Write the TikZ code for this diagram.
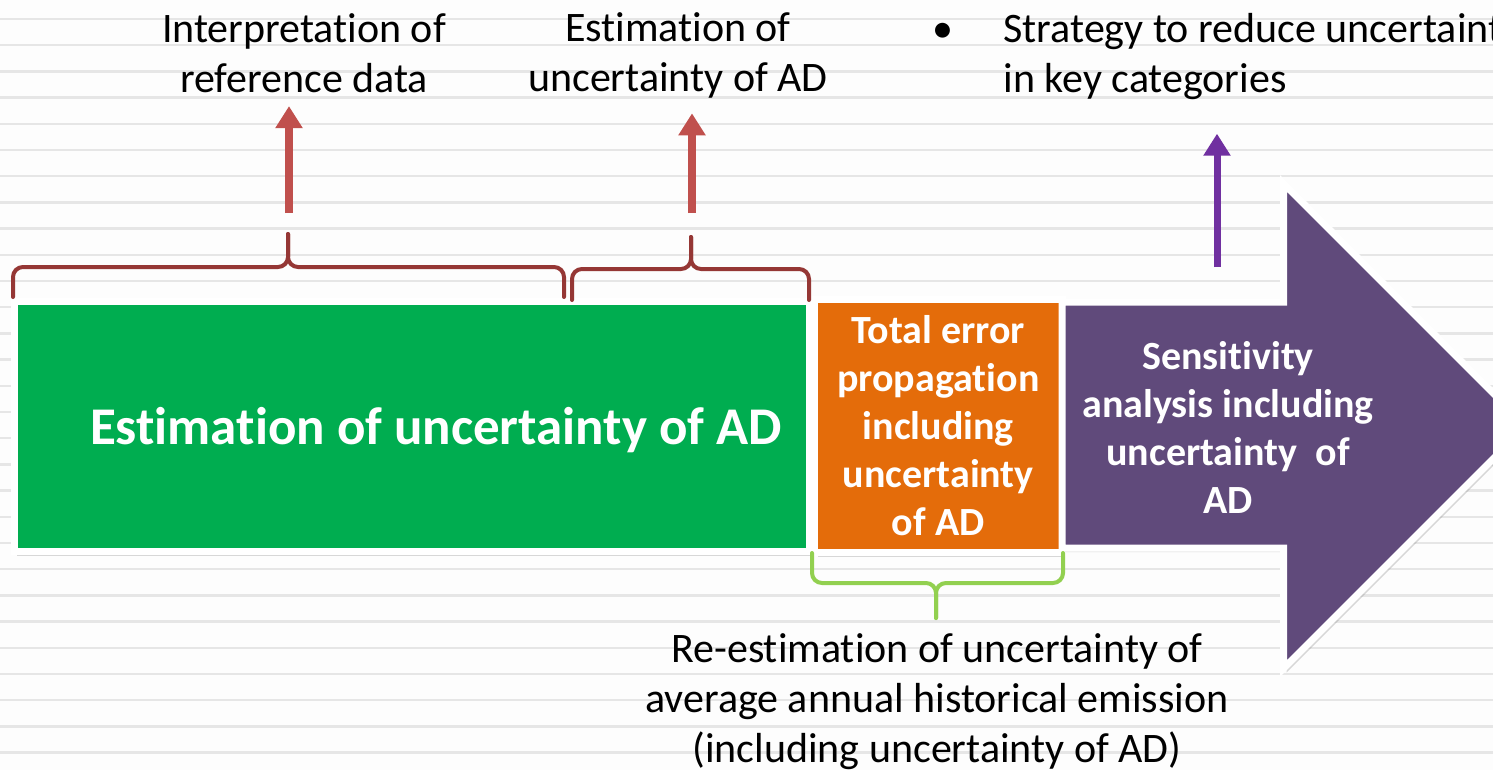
\documentclass[tikz,border=0pt]{standalone}
\usepackage{fontspec}
\setmainfont{Carlito}[Ligatures=NoCommon]
\usetikzlibrary{arrows.meta,shadows}
\definecolor{bggrey}{HTML}{FDFDFD}
\definecolor{rulegrey}{HTML}{E6E6E6}
\definecolor{adgreen}{HTML}{00AD50}
\definecolor{adorange}{HTML}{E46C0A}
\definecolor{adpurple}{HTML}{604A7B}
\definecolor{bracered}{HTML}{953735}
\definecolor{arrowred}{HTML}{C0504D}
\definecolor{arrowpurple}{HTML}{7030A0}
\definecolor{bracegreen}{HTML}{92D050}
\tikzset{
  box/.style={draw=white, line width=7pt, inner sep=0pt,
    drop shadow={shadow xshift=3pt, shadow yshift=-4pt, opacity=.3}},
  boxtext/.style={text=white, font=\bfseries\fontsize{40}{48}\selectfont, align=center},
  plaintext/.style={font=\fontsize{42}{50}\selectfont, align=center},
  brace/.style={line width=4pt, rounded corners=10pt, line cap=round},
  uparrow/.style={line width=8pt, -{Triangle[width=26pt,length=22pt]}},
}
\begin{document}
\begin{tikzpicture}[x=1pt,y=-1pt]
\useasboundingbox (0,0) rectangle (1493,770);
\clip (0,0) rectangle (1493,770);
% lined background
\fill[bggrey] (0,0) rectangle (1493,770);
\foreach \k in {0,...,28}
  \draw[rulegrey, line width=2.5pt] (0,{19+26.2*\k}) -- (1493,{19+26.2*\k});

% AD box
\node[box, fill=adgreen, minimum width=795.5pt, minimum height=250.5pt] (adbox) at (411.75,426.5) {};
\node[boxtext, font=\bfseries\fontsize{53}{60}\selectfont] (adtext) at (436,430) {Estimation of uncertainty of AD};

% error propagation
\node[box, boxtext, fill=adorange, minimum width=247.5pt, minimum height=253pt] (errbox) at (938.25,426)
  {Total error\\propagation\\including\\uncertainty\\of AD};

% sensitivity arrow
\draw[fill=adpurple, draw=white, line width=7pt, line join=miter,
  drop shadow={shadow xshift=3pt, shadow yshift=-4pt, opacity=.3}]
  (1062,302) -- (1283.5,302) -- (1283.5,183.5) -- (1526,426) -- (1283.5,668.5)
  -- (1283.5,548) -- (1062,548) -- cycle;
\node[boxtext] (sens) at (1228,427) {Sensitivity\\analysis including\\uncertainty~ of\\AD};

% braces
\draw[brace, bracered] (13,297) |- (288,267) -- (288,234);
\draw[brace, bracered] (564,297) |- (288,267) -- (288,234);
\draw[brace, bracered] (572,300) |- (691,269) -- (691,237);
\draw[brace, bracered] (809,300) |- (691,269) -- (691,237);
\draw[brace, bracegreen] (812,553) |- (936,583) -- (936,618);
\draw[brace, bracegreen] (1063,553) |- (936,583) -- (936,618);

% labels
\node[plaintext] (interp) at (304,53) {Interpretation of\\reference data};
\node[plaintext] (estim) at (678,55) {Estimation of\\uncertainty of AD};
\node[plaintext, align=left, anchor=west] (strat) at (1000,57)
  {\llap{•\hspace{50pt}}Strategy to reduce uncertainty\\in key categories};
\node[plaintext] (reest) at (937,702)
  {Re-estimation of uncertainty of\\average annual historical emission\\(including uncertainty of AD)};

% arrows up
\coordinate (up1) at (289,213);
\coordinate (up2) at (692,213);
\coordinate (up3) at (1217,267);
\draw[uparrow, arrowred, shorten >=10pt] (up1) -- (up1 |- interp.south);
\draw[uparrow, arrowred, shorten >=12pt] (up2) -- (up2 |- estim.south);
\draw[uparrow, arrowpurple, line width=7pt, shorten >=30pt] (up3) -- (up3 |- strat.south);
\end{tikzpicture}
\end{document}
